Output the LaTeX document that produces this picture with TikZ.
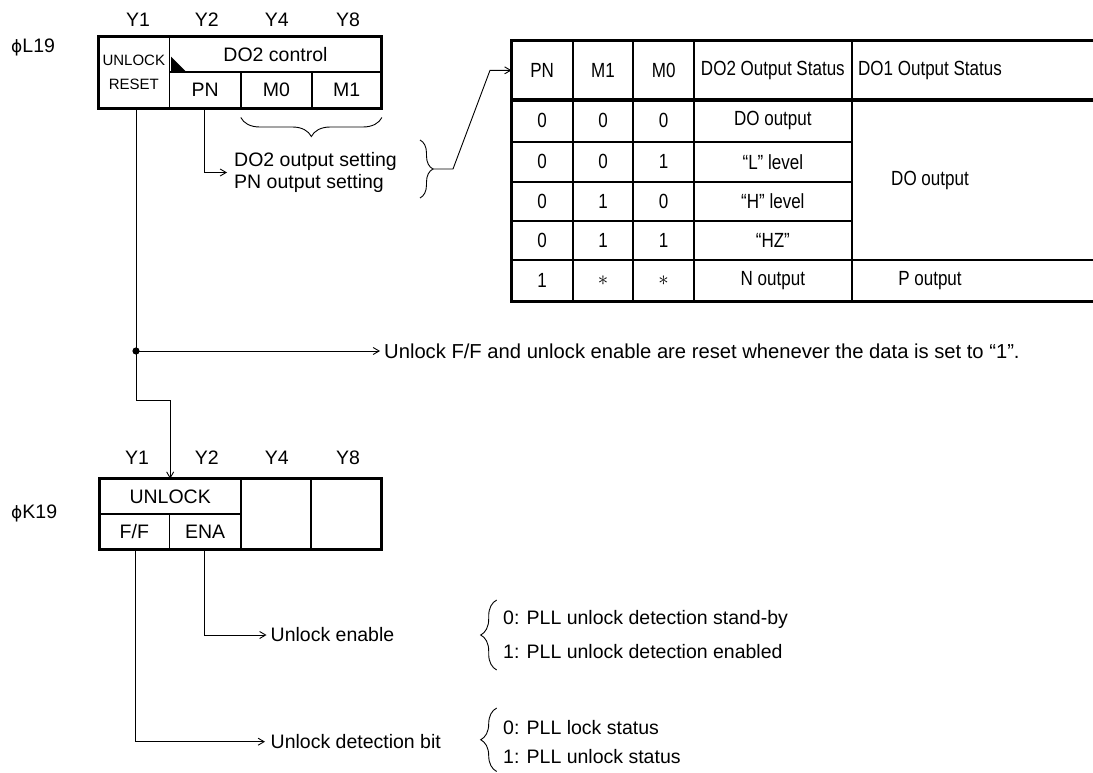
\documentclass[tikz,border=0pt]{standalone}
\usepackage{fontspec}
\setmainfont{Liberation Sans}
\newfontfamily\tabfont{Liberation Sans}[FakeStretch=0.83]
\newfontfamily\phifont{DejaVu Sans}
\usetikzlibrary{arrows.meta,decorations.pathreplacing}
\begin{document}
\begin{tikzpicture}[x=1pt,y=-1pt,
  txt/.style={font=\fontsize{19.5}{22}\selectfont, inner sep=0pt},
  smalltxt/.style={font=\fontsize{15}{24}\selectfont, inner sep=0pt, align=center},
  tab/.style={font=\tabfont\fontsize{20.5}{24}\selectfont, inner sep=0pt},
  frame/.style={line width=3pt},
  grid/.style={line width=1.6pt},
  tframe/.style={line width=3.3pt},
  tgrid/.style={line width=2pt},
  conn/.style={line width=0.9pt},
  arr/.style={conn, -{Straight Barb[length=6pt,width=7pt]}},
  brc/.style={decorate, decoration={brace, amplitude=#1}, line width=0.9pt},
]
\useasboundingbox (0,0) rectangle (1093,773);

% ---------- top register (phi L19) ----------
\node[txt, anchor=west] (lab1) at (11,47) {{\phifont\fontsize{17}{20}\selectfont ϕ}L19};
\node[txt] (ta1) at (138,20) {Y1};
\node[txt] (ta2) at (206.7,20) {Y2};
\node[txt] (ta4) at (276.7,20) {Y4};
\node[txt] (ta8) at (348,20) {Y8};

\node[smalltxt, minimum width=71, minimum height=71.6] (unlrst) at (133.8,72.5) {UNLOCK\\RESET};
\node[txt, minimum width=212.4, minimum height=35] (do2c) at (275.5,54.2) {DO2 control};
\node[txt, minimum width=71.7, minimum height=36.6] (pn) at (205.15,90) {PN};
\node[txt, minimum width=70.7, minimum height=36.6] (m0) at (276.35,90) {M0};
\node[txt, minimum width=70, minimum height=36.6] (m1) at (346.7,90) {M1};

\draw[frame] (unlrst.north west) rectangle (m1.south east);
\draw[grid] (unlrst.north east) -- (unlrst.south east);
\draw[grid] (do2c.south west) -- (do2c.south east);
\draw[grid] (pn.north east) -- (pn.south east);
\draw[grid] (m0.north east) -- (m0.south east);
\fill (171,56.7) -- (171,71.7) -- (186,71.7) -- cycle;

% PN -> settings
\node[txt, anchor=west, align=left, inner xsep=7pt] (dos) at (227,172.5) {DO2 output setting\\PN output setting};
\draw[arr] ([xshift=-1pt]pn.south) |- (dos.west);
\draw[brc=19] ([yshift=-9pt]m1.south east) -- ([yshift=-9pt]m0.south west);

% right brace and link to table
\coordinate (rbtop) at (420,140);
\coordinate (rbbot) at (420,198);
\draw[brc=13] (rbtop) -- (rbbot);
\coordinate (btip) at (433,169);
\coordinate (kneex) at (490,0);

% ---------- table ----------
\node[tab, minimum width=61, minimum height=59.3] (hpn) at (542.2,70.35) {PN};
\node[tab] (hm1) at (603,70.35) {M1};
\node[tab] (hm0) at (663.65,70.35) {M0};
\node[tab] (hdo2) at (772.85,70.35) {DO2 Output Status};
\node[tab] (hdo1) at (930,70.35) {DO1 Output Status};

\node[tab] (a1) at (542.2,120.85) {0};
\node[tab] (b1) at (603,120.85) {0};
\node[tab] (c1) at (663.65,120.85) {0};
\node[tab] (d1) at (772.85,120.85) {DO output};

\node[tab] (a2) at (542.2,161.7) {0};
\node[tab] (b2) at (603,161.7) {0};
\node[tab] (c2) at (663.65,161.7) {1};
\node[tab] (d2) at (772.85,161.7) {“L” level};

\node[tab] (a3) at (542.2,201.35) {0};
\node[tab] (b3) at (603,201.35) {1};
\node[tab] (c3) at (663.65,201.35) {0};
\node[tab] (d3) at (772.85,201.35) {“H” level};

\node[tab] (a4) at (542.2,240.5) {0};
\node[tab] (b4) at (603,240.5) {1};
\node[tab] (c4) at (663.65,240.5) {1};
\node[tab] (d4) at (772.85,240.5) {“HZ”};

\node[tab] (a5) at (542.2,280.85) {1};
\node[tab] (b5) at (603,280.85) {$\ast$};
\node[tab] (c5) at (663.65,280.85) {$\ast$};
\node[tab] (d5) at (772.85,280.85) {N output};

\node[tab] (e14) at (930,180) {DO output};
\node[tab] (e5) at (930,280.85) {P output};

% table grid
\draw[tgrid] (572.7,40.7) -- (572.7,301.7);
\draw[tgrid] (633.3,40.7) -- (633.3,301.7);
\draw[tgrid] (694,40.7) -- (694,301.7);
\draw[tgrid] (851.7,40.7) -- (851.7,301.7);
\draw[tgrid] (511.7,141.7) -- (851.7,141.7);
\draw[tgrid] (511.7,181.7) -- (851.7,181.7);
\draw[tgrid] (511.7,221) -- (851.7,221);
\draw[tgrid] (511.7,260) -- (1093,260);
\draw[tframe] (1093,40.7) -- (511.7,40.7) -- (511.7,301.7) -- (1093,301.7);
\draw[tframe] (511.7,100) -- (1093,100);

\draw[arr] (btip) -- ++(20,0) -- (hpn.west -| kneex) -- (hpn.west);

% ---------- reset line ----------
\coordinate (jn) at (136,351);
\coordinate (bend) at (136,400);
\node[txt, font=\fontsize{20.2}{22}\selectfont, anchor=west, inner xsep=4pt] (note) at (380,351) {Unlock F/F and unlock enable are reset whenever the data is set to “1”.};
\draw[conn] ([xshift=2.2pt]unlrst.south) -- (jn);
\fill (jn) circle (3.6);
\draw[arr] (jn) -- (note.west);

% ---------- bottom register (phi K19) ----------
\node[txt, anchor=west] (lab2) at (11,513) {{\phifont\fontsize{17}{20}\selectfont ϕ}K19};
\node[txt] (tb1) at (137,458) {Y1};
\node[txt] (tb2) at (206.7,458) {Y2};
\node[txt] (tb4) at (276.7,458) {Y4};
\node[txt] (tb8) at (348,458) {Y8};

\node[txt, minimum width=141.7, minimum height=35] (unlock) at (170.15,496.5) {UNLOCK};
\node[txt, minimum width=70, minimum height=35.3] (ff) at (134.3,531.65) {F/F};
\node[txt, minimum width=71.7, minimum height=35.3] (ena) at (205.15,531.65) {ENA};
\node[minimum width=70, minimum height=70.3, inner sep=0pt] (k4) at (276,514.15) {};
\node[minimum width=70, minimum height=70.3, inner sep=0pt] (k8) at (346,514.15) {};

\draw[frame] (unlock.north west) rectangle (k8.south east);
\draw[grid] (unlock.south west) -- (unlock.south east);
\draw[grid] (ff.north east) -- (ff.south east);
\draw[grid] (k4.north west) -- (k4.south west);
\draw[grid] (k4.north east) -- (k4.south east);

\draw[arr] (jn) -- (bend) -| (unlock.north);

% outputs
\node[txt, anchor=west, inner xsep=4pt] (uen) at (266.5,635) {Unlock enable};
\node[txt, anchor=west, inner xsep=5.5pt] (udb) at (265,741.7) {Unlock detection bit};
\draw[arr] ([xshift=-1pt]ena.south) |- (uen.west);
\draw[arr] ([xshift=1pt]ff.south) |- (udb.west);

\draw[brc=16] (496.7,670) -- (496.7,600);
\node[txt, anchor=west] (e0) at (503,619) {0: PLL unlock detection stand-by};
\node[txt, anchor=west] (e1) at (503,651.7) {1: PLL unlock detection enabled};

\draw[brc=16] (496.7,771.5) -- (496.7,708);
\node[txt, anchor=west] (d0) at (503,728) {0: PLL lock status};
\node[txt, anchor=west] (d1x) at (503,756.7) {1: PLL unlock status};
\end{tikzpicture}
\end{document}
